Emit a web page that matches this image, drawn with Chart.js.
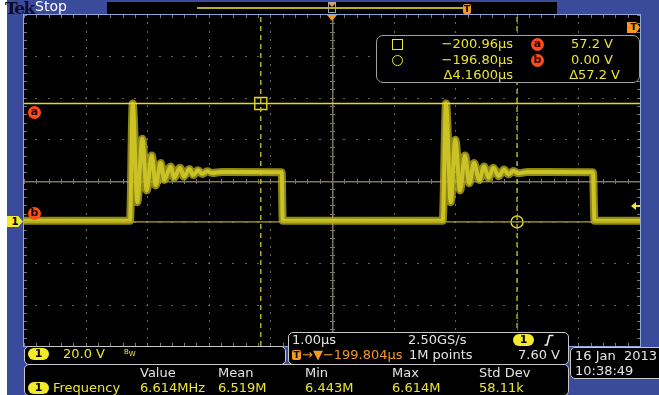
<!DOCTYPE html>
<html>
<head>
<meta charset="utf-8">
<script src="https://cdn.jsdelivr.net/npm/chart.js@4.4.1/dist/chart.umd.min.js"></script>
<style>
  body { margin: 0; width: 659px; height: 395px; overflow: hidden; background: #3b4b9b; position: relative; font-family: "DejaVu Sans", sans-serif; }
  #strip { position: absolute; left: 0; top: 0; width: 7px; height: 395px; background: #fff; }
  #scope { position: absolute; left: 0; top: 0; }
  .box { position: absolute; background: #000; border: 1px solid #c8c8c8; border-radius: 5px; box-sizing: border-box; }
  .t { position: absolute; font-size: 13px; line-height: 15px; white-space: nowrap; color: #ece52e; }
  .w { color: #e4e4e4; }
  .r { text-align: right; }
  .pill { position: absolute; width: 21px; height: 12px; background: #f2ea2a; color: #000; border-radius: 7px; font-size: 11px; font-weight: bold; text-align: center; line-height: 12px; }
  .mk { position: absolute; width: 13px; height: 13px; border-radius: 50%; background: #ff4b14; color: #200; font-size: 11px; font-weight: bold; text-align: center; line-height: 12px; }
  .tbox { position: absolute; background: #f39a1e; color: #000; font-size: 9px; font-weight: bold; text-align: center; }
</style>
</head>
<body>
<div id="strip"></div>
<canvas id="scope" width="659" height="395"></canvas>

<!-- Kopfzeile -->
<div class="t" style="left:5px;top:0px;font:bold 17px 'DejaVu Serif',serif;line-height:16px;color:#0a0c26;letter-spacing:-1.5px">Tek</div>
<div class="t w" style="left:35px;top:-1px;color:#fff;font-size:14px">Stop</div>
<div style="position:absolute;left:107px;top:2px;width:450px;height:12px;background:#000"></div>
<div style="position:absolute;left:197px;top:7px;width:266px;height:2px;background:#b8b020"></div>
<div style="position:absolute;left:328px;top:2px;width:8px;height:11px;border:1px solid #a8a8a8;box-sizing:border-box"></div>
<div style="position:absolute;left:328px;top:3px;width:0;height:0;border-left:4px solid transparent;border-right:4px solid transparent;border-top:4px solid #f39a1e"></div>
<div class="tbox" style="left:463px;top:4px;width:8px;height:10px;line-height:10px;border-radius:2px">T</div>

<!-- Trigger-Markierungen -->
<div style="position:absolute;left:327px;top:15px;width:0;height:0;border-left:5px solid transparent;border-right:5px solid transparent;border-top:6px solid #f39a1e"></div>
<div class="tbox" style="left:627px;top:22px;width:13px;height:11px;line-height:11px;clip-path:polygon(0 0,70% 0,100% 50%,70% 100%,0 100%)">T</div>
<div style="position:absolute;left:631px;top:202px;width:0;height:0;border-top:4px solid transparent;border-bottom:4px solid transparent;border-right:5px solid #f2ea2a"></div>
<div style="position:absolute;left:635px;top:205px;width:5px;height:2px;background:#f2ea2a"></div>

<!-- Kanal- und Cursormarken links -->
<div class="tbox" style="left:7px;top:216px;width:16px;height:11px;line-height:11px;font-size:10px;background:#f2ea2a;clip-path:polygon(0 0,70% 0,100% 50%,70% 100%,0 100%)">1</div>
<div class="mk" style="left:28px;top:106px">a</div>
<div class="mk" style="left:28px;top:207px">b</div>

<!-- Cursor-Anzeige -->
<div class="box" style="left:376px;top:35px;width:264px;height:48px;border:1.5px solid #a0a0a0;border-radius:7px"></div>
<div style="position:absolute;left:392px;top:39px;width:11px;height:11px;border:1.5px solid #ece52e;box-sizing:border-box"></div>
<div style="position:absolute;left:392px;top:55px;width:11px;height:11px;border:1.5px solid #ece52e;border-radius:50%;box-sizing:border-box"></div>
<div class="t r" style="left:400px;width:113px;top:36px">−200.96µs</div>
<div class="t r" style="left:400px;width:113px;top:52px">−196.80µs</div>
<div class="t r" style="left:400px;width:113px;top:67px">Δ4.1600µs</div>
<div class="mk" style="left:531px;top:38px">a</div>
<div class="mk" style="left:531px;top:54px">b</div>
<div class="t r" style="left:550px;width:63px;top:36px">57.2 V</div>
<div class="t r" style="left:550px;width:63px;top:52px">0.00 V</div>
<div class="t r" style="left:550px;width:70px;top:67px">Δ57.2 V</div>

<!-- Statusfelder unten -->
<div class="box" style="left:24px;top:346px;width:262px;height:19px"></div>
<div class="pill" style="left:28px;top:348px">1</div>
<div class="t" style="left:63px;top:346px">20.0 V</div>
<div class="t" style="left:124px;top:349px;font-size:7px;line-height:7px">B<sub style="font-size:7px">W</sub></div>

<div class="box" style="left:288px;top:332px;width:281px;height:33px"></div>
<div class="t w" style="left:292px;top:332px">1.00µs</div>
<div class="t w" style="left:408px;top:332px">2.50GS/s</div>
<div class="pill" style="left:513px;top:334px">1</div>
<svg style="position:absolute;left:544px;top:334px" width="10" height="12"><path d="M0.5 11 L3 11 L5.5 1.5 L9.5 1.5" stroke="#eee" stroke-width="1.6" fill="none"/></svg>
<div class="tbox" style="left:292px;top:350px;width:9px;height:10px;line-height:10px;border-radius:2px">T</div>
<div class="t" style="left:302px;top:347px;color:#f39a1e">→▼−199.804µs</div>
<div class="t w" style="left:409px;top:347px">1M points</div>
<div class="t w r" style="left:500px;width:60px;top:347px">7.60 V</div>

<div class="box" style="left:24px;top:364px;width:545px;height:32px"></div>
<div class="t w" style="left:140px;top:365px">Value</div>
<div class="t w" style="left:218px;top:365px">Mean</div>
<div class="t w" style="left:305px;top:365px">Min</div>
<div class="t w" style="left:392px;top:365px">Max</div>
<div class="t w" style="left:479px;top:365px">Std Dev</div>
<div class="pill" style="left:28px;top:382px">1</div>
<div class="t" style="left:53px;top:380px">Frequency</div>
<div class="t" style="left:140px;top:380px">6.614MHz</div>
<div class="t" style="left:218px;top:380px">6.519M</div>
<div class="t" style="left:305px;top:380px">6.443M</div>
<div class="t" style="left:392px;top:380px">6.614M</div>
<div class="t" style="left:479px;top:380px">58.11k</div>

<div class="box" style="left:570px;top:347px;width:100px;height:32px"></div>
<div class="t w" style="left:575px;top:348px">16 Jan&nbsp;&nbsp;2013</div>
<div class="t w" style="left:575px;top:363px">10:38:49</div>

<script>
// Bildschirmbereich: 1.00 µs/div horizontal, 20.0 V/div vertikal
const X_MIN = -204.804;
const X_MAX = -194.804;
const Y_MIN = -60;
const Y_MAX = 100;

// Kanal 1 Messkurve (Zeit in µs, Spannung in V)
const traceTimeUs = [
  -204.804, -203.083, -203.039, -202.965, -202.884, -202.812, -202.731, -202.666,
  -202.585, -202.526, -202.423, -202.369, -202.272, -202.207, -202.121, -202.056,
  -201.980, -201.910, -201.830, -201.750, -201.600, -200.621, -200.604,
  -198.007, -197.953, -197.877, -197.802, -197.726, -197.645, -197.575,
  -197.499, -197.413, -197.336, -197.260, -197.185, -197.098, -197.012,
  -196.940, -196.860, -196.780, -196.630, -195.567, -195.543, -194.804
];
const traceVolts = [
  0.5, 0.5, 57.2, 9.5, 40.2, 15.2, 32.1, 17.6,
  28.4, 20.3, 26.8, 21.3, 26.2, 21.9, 25.5, 22.6,
  24.9, 23.2, 24.5, 23.6, 24.1, 24.0, 0.5,
  0.5, 57.2, 9.5, 39.7, 15.2, 32.1, 18.7,
  28.4, 20.3, 26.8, 21.3, 26.2, 22.1, 25.3,
  23.0, 24.6, 23.5, 24.1, 24.0, 0.5, 0.5
];

// Cursor: a = Quadrat, b = Kreis
const cursorTimesUs = [-200.96, -196.80];
const cursorVolts = [57.2, 0.00];

const tracePoints = traceTimeUs.map((t, i) => ({ x: t, y: traceVolts[i] }));

// Oszilloskop-Raster mit Punktlinien, Mittelkreuz und Randmarken
const scopeGrid = {
    id: 'scopeGrid',
    beforeDraw(chart) {
        const { ctx, chartArea: a, scales: { x, y } } = chart;
        ctx.save();
        ctx.fillStyle = '#000';
        ctx.fillRect(a.left, a.top, a.right - a.left, a.bottom - a.top);

        const xs = [];
        for (let i = 0; i <= 50; i++) xs.push(Math.round(x.getPixelForValue(X_MIN + i * 0.2)));
        const ys = [];
        for (let j = 0; j <= 40; j++) ys.push(Math.round(y.getPixelForValue(Y_MAX - j * 4)));

        // gepunktete Teilungslinien
        ctx.fillStyle = 'rgb(100,100,100)';
        for (let i = 5; i < 50; i += 5) {
            if (i === 25) continue;
            ys.forEach(py => ctx.fillRect(xs[i], py - 1, 1, 2));
        }
        for (let j = 5; j < 40; j += 5) {
            if (j === 20) continue;
            xs.forEach(px => ctx.fillRect(px - 1, ys[j], 2, 1));
        }

        // Randmarken
        ctx.fillStyle = 'rgb(120,120,120)';
        xs.forEach(px => {
            ctx.fillRect(px, a.top, 1, 3);
            ctx.fillRect(px, a.bottom - 3, 1, 3);
        });
        ys.forEach(py => {
            ctx.fillRect(a.left, py, 3, 1);
            ctx.fillRect(a.right - 3, py, 3, 1);
        });

        // Mittelkreuz
        const cx = xs[25], cy = ys[20];
        ctx.fillStyle = 'rgb(125,118,98)';
        ctx.fillRect(a.left, cy, a.right - a.left, 1.5);
        ctx.fillRect(cx, a.top, 1.5, a.bottom - a.top);
        xs.forEach(px => ctx.fillRect(px, cy - 2, 1, 5));
        ys.forEach(py => ctx.fillRect(cx - 2, py, 5, 1));

        ctx.strokeStyle = '#8ea8dc';
        ctx.lineWidth = 1;
        ctx.strokeRect(a.left - 0.5, a.top - 0.5, a.right - a.left + 1, a.bottom - a.top + 1);
        ctx.restore();
    }
};

new Chart(document.getElementById('scope'), {
    type: 'line',
    data: {
        datasets: [
            {   // Cursor a (horizontal)
                data: [{ x: X_MIN, y: cursorVolts[0] }, { x: X_MAX, y: cursorVolts[0] }],
                borderColor: '#e2d826', borderWidth: 1.4, pointRadius: 0
            },
            {   // Cursor b (horizontal)
                data: [{ x: X_MIN, y: cursorVolts[1] }, { x: X_MAX, y: cursorVolts[1] }],
                borderColor: '#b0a620', borderWidth: 1.4, pointRadius: 0
            },
            {   // Cursor a (vertikal)
                data: [{ x: cursorTimesUs[0], y: Y_MIN }, { x: cursorTimesUs[0], y: Y_MAX }],
                borderColor: '#cfc52a', borderWidth: 1.3, borderDash: [5, 4], pointRadius: 0
            },
            {   // Cursor b (vertikal)
                data: [{ x: cursorTimesUs[1], y: Y_MIN }, { x: cursorTimesUs[1], y: Y_MAX }],
                borderColor: '#cfc52a', borderWidth: 1.3, borderDash: [5, 4], pointRadius: 0
            },
            {   // Nachleuchten der Kurve
                data: tracePoints,
                borderColor: 'rgba(190,180,30,0.75)', borderWidth: 8, pointRadius: 0,
                cubicInterpolationMode: 'monotone', borderJoinStyle: 'round', borderCapStyle: 'round'
            },
            {   // Kurve
                data: tracePoints,
                borderColor: '#f2ea3c', borderWidth: 4, pointRadius: 0,
                cubicInterpolationMode: 'monotone', borderJoinStyle: 'round', borderCapStyle: 'round'
            },
            {   // Cursor-Schnittpunkt a
                data: [{ x: cursorTimesUs[0], y: cursorVolts[0] }],
                showLine: false, pointStyle: 'rect', pointRadius: 8.5,
                pointBorderColor: '#e2d826', pointBorderWidth: 1.4, pointBackgroundColor: 'rgba(0,0,0,0)'
            },
            {   // Cursor-Schnittpunkt b
                data: [{ x: cursorTimesUs[1], y: cursorVolts[1] }],
                showLine: false, pointStyle: 'circle', pointRadius: 6,
                pointBorderColor: '#e2d826', pointBorderWidth: 1.4, pointBackgroundColor: 'rgba(0,0,0,0)'
            }
        ]
    },
    options: {
        responsive: false,
        devicePixelRatio: 1,
        animation: false,
        events: [],
        layout: { padding: { left: 24, right: 19, top: 15, bottom: 49 } },
        scales: {
            x: { type: 'linear', min: X_MIN, max: X_MAX, display: false },
            y: { type: 'linear', min: Y_MIN, max: Y_MAX, display: false }
        },
        plugins: { legend: { display: false }, tooltip: { enabled: false } }
    },
    plugins: [scopeGrid]
});
</script>
</body>
</html>
